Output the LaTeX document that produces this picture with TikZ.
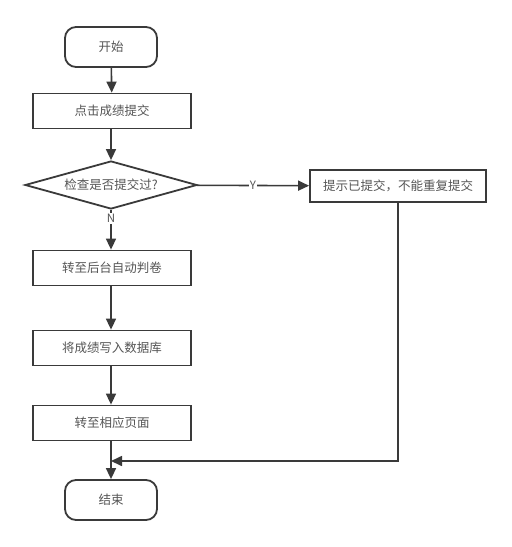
\documentclass[tikz,border=0pt]{standalone}
\usepackage{fontspec}
\setmainfont{Noto Sans CJK SC}
\usepackage{tikz}
\usetikzlibrary{shapes.geometric,arrows.meta}
\definecolor{linegray}{HTML}{3A3A3A}
\definecolor{textgray}{HTML}{555555}
\tikzset{
  flow/.style={draw=linegray,line width=1.8pt,text=textgray,font=\fontsize{12.5}{14}\selectfont},
  term/.style={flow,rectangle,rounded corners=11pt,minimum width=92pt,minimum height=40pt},
  proc/.style={flow,rectangle,minimum width=158pt,minimum height=35pt,inner xsep=2pt},
  test/.style={flow,diamond,aspect=3.6,minimum width=172pt,minimum height=48pt,inner sep=0pt},
  link/.style={draw=linegray,line width=1.6pt,-{Triangle[length=11pt,width=10pt]}},
  tag/.style={fill=white,text=textgray,inner sep=1pt,font=\fontsize{11.5}{12}\selectfont}
}

\begin{document}
\begin{tikzpicture}[x=1pt,y=1pt]
\useasboundingbox (0,0) rectangle (512,-547);
\node[term] (start) at (111,-47) {开始};
\node[proc] (click) at (112,-111) {点击成绩提交};
\node[test] (check) at (111,-185) {检查是否提交过?};
\node[proc,minimum width=176pt,minimum height=32pt] (hint) at (398,-186) {提示已提交，不能重复提交};
\node[proc] (judge) at (112,-268) {转至后台自动判卷};
\node[proc] (save) at (112,-348) {将成绩写入数据库};
\node[proc] (page) at (112,-423) {转至相应页面};
\node[term] (stop) at (111,-500) {结束};
\coordinate (merge) at (111,-461);
\draw[link] (start) -- (click);
\draw[link] (click.south -| check) -- (check);
\draw[link] (check) -- node[tag] {Y} (hint);
\draw[link] (check) -- node[tag,pos=0.22] {N} (judge.north -| check);
\draw[link] (judge.south -| check) -- (save.north -| check);
\draw[link] (save.south -| check) -- (page.north -| check);
\draw[link] (page.south -| check) -- (stop);
\draw[link] (hint.south) |- (merge);
\end{tikzpicture}
\end{document}
